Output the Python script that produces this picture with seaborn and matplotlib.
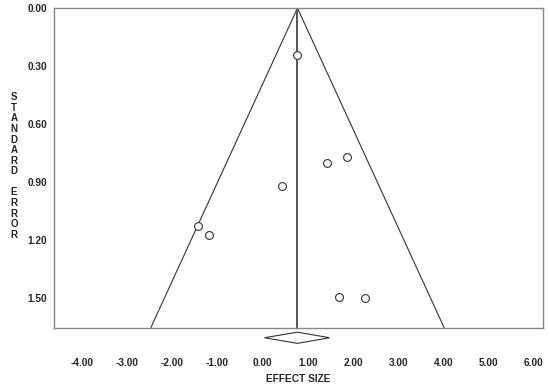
import numpy as np
import pandas as pd
import matplotlib
matplotlib.use("Agg")
import matplotlib.pyplot as plt
import seaborn as sns
from matplotlib.patches import Polygon

# ─── Data ────────────────────────────────────────────────────────────────────
effect_size = [0.75, 1.42, 1.87, 0.43, -1.43, -1.19, 1.68, 2.27]
std_error   = [0.245, 0.80, 0.77, 0.92, 1.128, 1.175, 1.496, 1.503]

mean_effect = 0.77          # pooled estimate
ci_low, ci_high = 0.04, 1.48  # diamond extent
se_max = 1.656
z_crit = 1.96

x_ticks = [-4, -3, -2, -1, 0, 1, 2, 3, 4, 5, 6]
y_ticks = [0.0, 0.3, 0.6, 0.9, 1.2, 1.5]

df = pd.DataFrame({"effect": effect_size, "se": std_error})
funnel = pd.DataFrame({
    "x":    [mean_effect - z_crit * se_max, mean_effect, mean_effect + z_crit * se_max],
    "se":   [se_max, 0.0, se_max],
})

# ─── Style ───────────────────────────────────────────────────────────────────
sns.set_style("white")
plt.rcParams["font.family"] = ["Liberation Sans", "DejaVu Sans"]

fig = plt.figure(figsize=(5.5, 3.86), dpi=100)
ax = fig.add_axes([0.098, 0.151, 0.889, 0.828])

# funnel edges
sns.lineplot(data=funnel, x="x", y="se", sort=False, estimator=None,
             color="#333333", linewidth=0.8, ax=ax)
# pooled effect line
ax.plot([mean_effect, mean_effect], [0, se_max], color="#555555", linewidth=1.4)

# studies
sns.scatterplot(data=df, x="effect", y="se", ax=ax, s=32,
                facecolor="white", edgecolor="#333333", linewidth=0.8, zorder=5)

# diamond under the axis
d_y, d_h = 1.708, 0.029
diamond = Polygon([[ci_low, d_y], [mean_effect, d_y - d_h],
                   [ci_high, d_y], [mean_effect, d_y + d_h]],
                  closed=True, facecolor="white", edgecolor="#333333",
                  linewidth=0.8, clip_on=False)
ax.add_patch(diamond)

ax.set_xlim(-4.62, 6.2)
ax.set_ylim(se_max, 0)
ax.set_xticks(x_ticks)
ax.set_xticklabels([f"{v:.2f}" for v in x_ticks], fontsize=7.3, fontweight="bold")
ax.set_yticks(y_ticks)
ax.set_yticklabels([f"{v:.2f}" for v in y_ticks], fontsize=7.3, fontweight="bold")
ax.tick_params(axis="x", direction="in", length=3, width=0.8, color="#555555", pad=22)
ax.tick_params(axis="y", direction="out", length=3, width=0.8, color="#555555", pad=2)

for sp in ax.spines.values():
    sp.set_color("#888888")
    sp.set_linewidth(1.0)

ax.set_xlabel("EFFECT SIZE", fontsize=7.3, fontweight="bold", labelpad=4)
ax.set_ylabel("")
fig.text(14 / 550, 1 - 166 / 386, "\n".join("STANDARD ERROR"),
         fontsize=7, fontweight="bold", ha="center", va="center",
         linespacing=1.07)

plt.savefig("out.png", dpi=100)
plt.close()
